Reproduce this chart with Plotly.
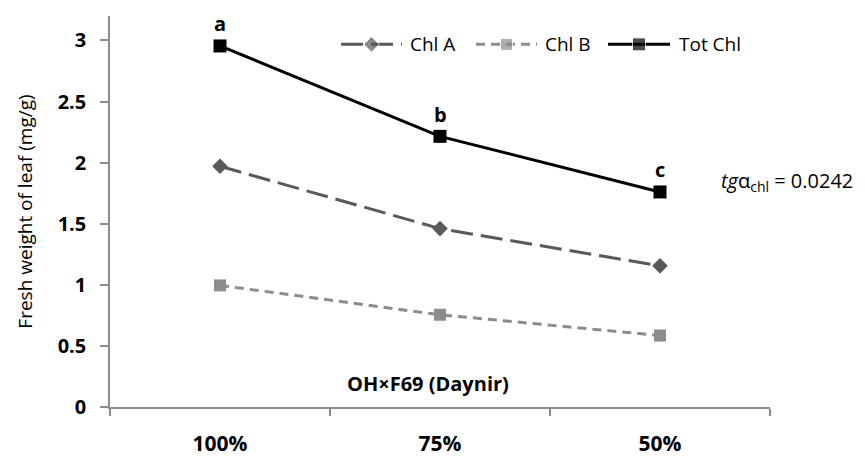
import plotly.graph_objects as go

# Water regime treatments and chlorophyll content (mg/g fresh weight)
treatments = ["100%", "75%", "50%"]
chl_a = [1.97, 1.46, 1.155]
chl_b = [0.995, 0.755, 0.585]
tot_chl = [2.955, 2.215, 1.76]
tot_letters = ["a", "b", "c"]

y_ticks = [0, 0.5, 1, 1.5, 2, 2.5, 3]
y_tick_text = ["0", "0.5", "1", "1.5", "2", "2.5", "3"]

FONT = "Open Sans"
W, H = 865, 469
M_L, M_R, M_T, M_B = 110, 95, 16, 53

series = [
    dict(name="Chl A", y=chl_a, color="#595959", dash="22px,8px", symbol="diamond", size=12),
    dict(name="Chl B", y=chl_b, color="#8c8c8c", dash="9px,6px", symbol="square", size=12),
    dict(name="Tot Chl", y=tot_chl, color="#000000", dash="solid", symbol="square", size=13),
]

fig = go.Figure()
for s in series:
    fig.add_trace(go.Scatter(
        x=treatments, y=s["y"], mode="lines+markers", name=s["name"],
        line=dict(color=s["color"], width=3, dash=s["dash"]),
        marker=dict(symbol=s["symbol"], size=s["size"], color=s["color"]),
        showlegend=False, hoverinfo="x+y",
    ))

# Hand-drawn legend on a pixel-scaled overlay axis pair
legend_y = 45
legend_items = [(341, 402, 408), (476, 537, 543), (608, 670, 677)]
for s, (x0, x1, xt) in zip(series, legend_items):
    fig.add_trace(go.Scatter(
        x=[x0, (x0 + x1) / 2, x1], y=[legend_y] * 3, mode="lines+markers",
        xaxis="x2", yaxis="y2", showlegend=False, hoverinfo="skip",
        line=dict(color=s["color"], width=3, dash=s["dash"]),
        marker=dict(symbol=s["symbol"], size=[0, s["size"], 0], color=s["color"]),
    ))
    fig.add_annotation(x=xt, y=legend_y, xref="x2", yref="y2", text=s["name"],
                       showarrow=False, xanchor="left", yanchor="middle",
                       font=dict(family=FONT, size=19, color="#000000"))

# Significance letters above total chlorophyll
for t, v, lab in zip(treatments, tot_chl, tot_letters):
    fig.add_annotation(x=t, y=v, text=f"<b>{lab}</b>", showarrow=False,
                       yshift=22, yanchor="middle",
                       font=dict(family=FONT, size=20, color="#000000"))

# Slope note and genotype label
fig.add_annotation(x=719, y=185, xref="x2", yref="y2",
                   text="<i>tg</i>α<sub>chl</sub> = 0.0242", showarrow=False,
                   xanchor="left", yanchor="middle",
                   font=dict(family=FONT, size=20, color="#000000"))
fig.add_annotation(x=428, y=392, xref="x2", yref="y2",
                   text="<b>OH×F69 (Daynir)</b>", showarrow=False,
                   xanchor="center", yanchor="middle",
                   font=dict(family=FONT, size=20, color="#000000"))

axis_color = "#8c8c8c"
fig.update_layout(
    width=W, height=H,
    margin=dict(l=M_L, r=M_R, t=M_T, b=M_B, pad=0),
    paper_bgcolor="white", plot_bgcolor="white",
    font=dict(family=FONT, color="#000000"),
    showlegend=False,
    xaxis=dict(
        type="category", range=[-0.5, 2.5], showgrid=False, zeroline=False,
        showline=True, linecolor=axis_color, linewidth=1.5,
        ticks="outside", ticklen=7, tickcolor=axis_color, tickwidth=1.5,
        tickson="boundaries",
        tickfont=dict(family=FONT, size=21, color="#000000", weight="bold"),
        ticklabelstandoff=17,
    ),
    yaxis=dict(
        range=[0, 3.2], showgrid=False, zeroline=False,
        showline=True, linecolor=axis_color, linewidth=1.5,
        ticks="outside", ticklen=8, tickcolor=axis_color, tickwidth=1.5,
        tickvals=y_ticks, ticktext=y_tick_text,
        tickfont=dict(family=FONT, size=20, color="#000000", weight="bold"),
        ticklabelstandoff=10,
        title=dict(text="Fresh weight of leaf (mg/g)", standoff=20,
                   font=dict(family=FONT, size=19, color="#000000")),
    ),
    xaxis2=dict(overlaying="x", range=[M_L, W - M_R], visible=False, fixedrange=True),
    yaxis2=dict(overlaying="y", range=[H - M_B, M_T], visible=False, fixedrange=True),
)

fig.write_html("out.html")
